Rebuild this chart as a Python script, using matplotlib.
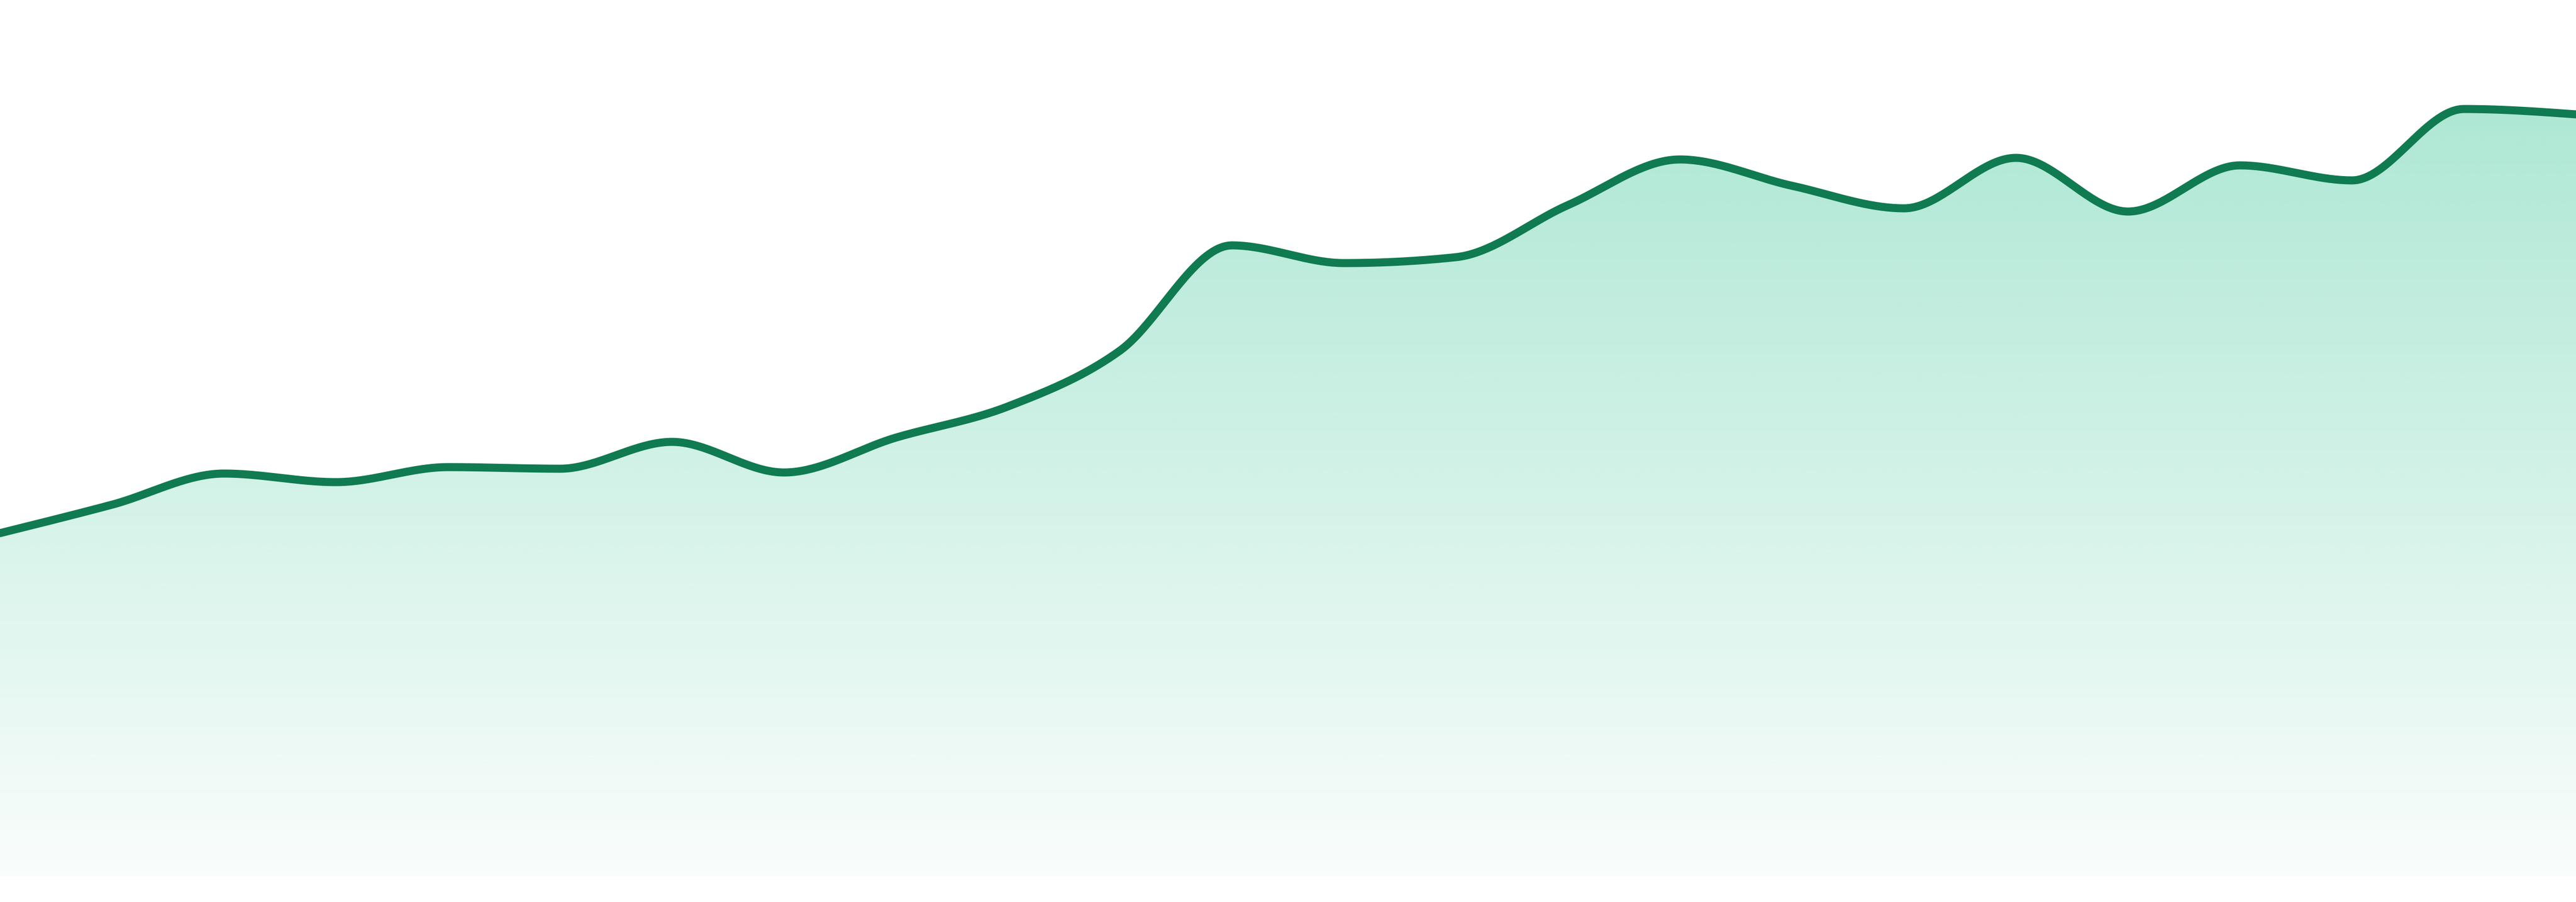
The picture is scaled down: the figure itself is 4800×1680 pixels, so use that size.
import numpy as np
import matplotlib
matplotlib.use("Agg")
import matplotlib.pyplot as plt
from matplotlib.colors import to_rgb

# ---- data ----
points = list(range(24))
values = [63.9, 69.2, 75.0, 73.4, 76.2, 75.9, 80.9, 75.2, 81.7, 87.5, 97.9, 117.5,
          114.2, 115.3, 125.0, 133.5, 128.6, 124.4, 133.8, 123.8, 132.4, 129.6, 142.9, 141.9]

LINE_COLOR = "#107a50"
FILL_COLOR = "#10b981"
Y_MAX = 163.2


def monotone_x(x, y, n=40):
    """d3 curveMonotoneX-style interpolation rendered as dense points."""
    x = np.asarray(x, float)
    y = np.asarray(y, float)
    m = len(x)
    h = np.diff(x)
    s = np.diff(y) / h
    t = np.zeros(m)
    for i in range(1, m - 1):
        h0, h1 = h[i - 1], h[i]
        s0, s1 = s[i - 1], s[i]
        p = (s0 * h1 + s1 * h0) / (h0 + h1)
        t[i] = (np.sign(s0) + np.sign(s1)) * min(abs(s0), abs(s1), 0.5 * abs(p))
    t[0] = (3 * s[0] - t[1]) / 2
    t[-1] = (3 * s[-1] - t[-2]) / 2
    xs, ys = [], []
    for i in range(m - 1):
        dx = (x[i + 1] - x[i]) / 3
        p0 = np.array([x[i], y[i]])
        p1 = np.array([x[i] + dx, y[i] + dx * t[i]])
        p2 = np.array([x[i + 1] - dx, y[i + 1] - dx * t[i + 1]])
        p3 = np.array([x[i + 1], y[i + 1]])
        u = np.linspace(0, 1, n, endpoint=(i == m - 2))
        b = ((1 - u) ** 3)[:, None] * p0 + (3 * (1 - u) ** 2 * u)[:, None] * p1 \
            + (3 * (1 - u) * u ** 2)[:, None] * p2 + (u ** 3)[:, None] * p3
        xs.append(b[:, 0])
        ys.append(b[:, 1])
    return np.concatenate(xs), np.concatenate(ys)


fig = plt.figure(figsize=(16, 5.6), dpi=300)
ax = fig.add_axes([0, 48 / 1680, 1, 1632 / 1680])
ax.set_xlim(points[0], points[-1])
ax.set_ylim(0, Y_MAX)
ax.axis("off")

cx, cy = monotone_x(points, values)

# gradient fill under the curve
poly = ax.fill_between(cx, cy, 0, facecolor="none", edgecolor="none")
top = max(values)
rgb = np.array(to_rgb(FILL_COLOR))
ny = 400
yy = np.linspace(0, Y_MAX, ny)
alpha = np.clip(0.025 + (0.34 - 0.025) * (yy / top), 0, 0.38)
img = np.zeros((ny, 2, 4))
img[:, :, :3] = rgb
img[:, :, 3] = alpha[:, None]
im = ax.imshow(img, extent=[points[0], points[-1], 0, Y_MAX], origin="lower",
               aspect="auto", interpolation="bilinear", zorder=1)
path = poly.get_paths()[0]
im.set_clip_path(path, transform=ax.transData)

ax.plot(cx, cy, color=LINE_COLOR, lw=3.6, solid_capstyle="round",
        solid_joinstyle="round", zorder=3, clip_on=False)

fig.savefig("out.png", dpi=300, facecolor="white")
